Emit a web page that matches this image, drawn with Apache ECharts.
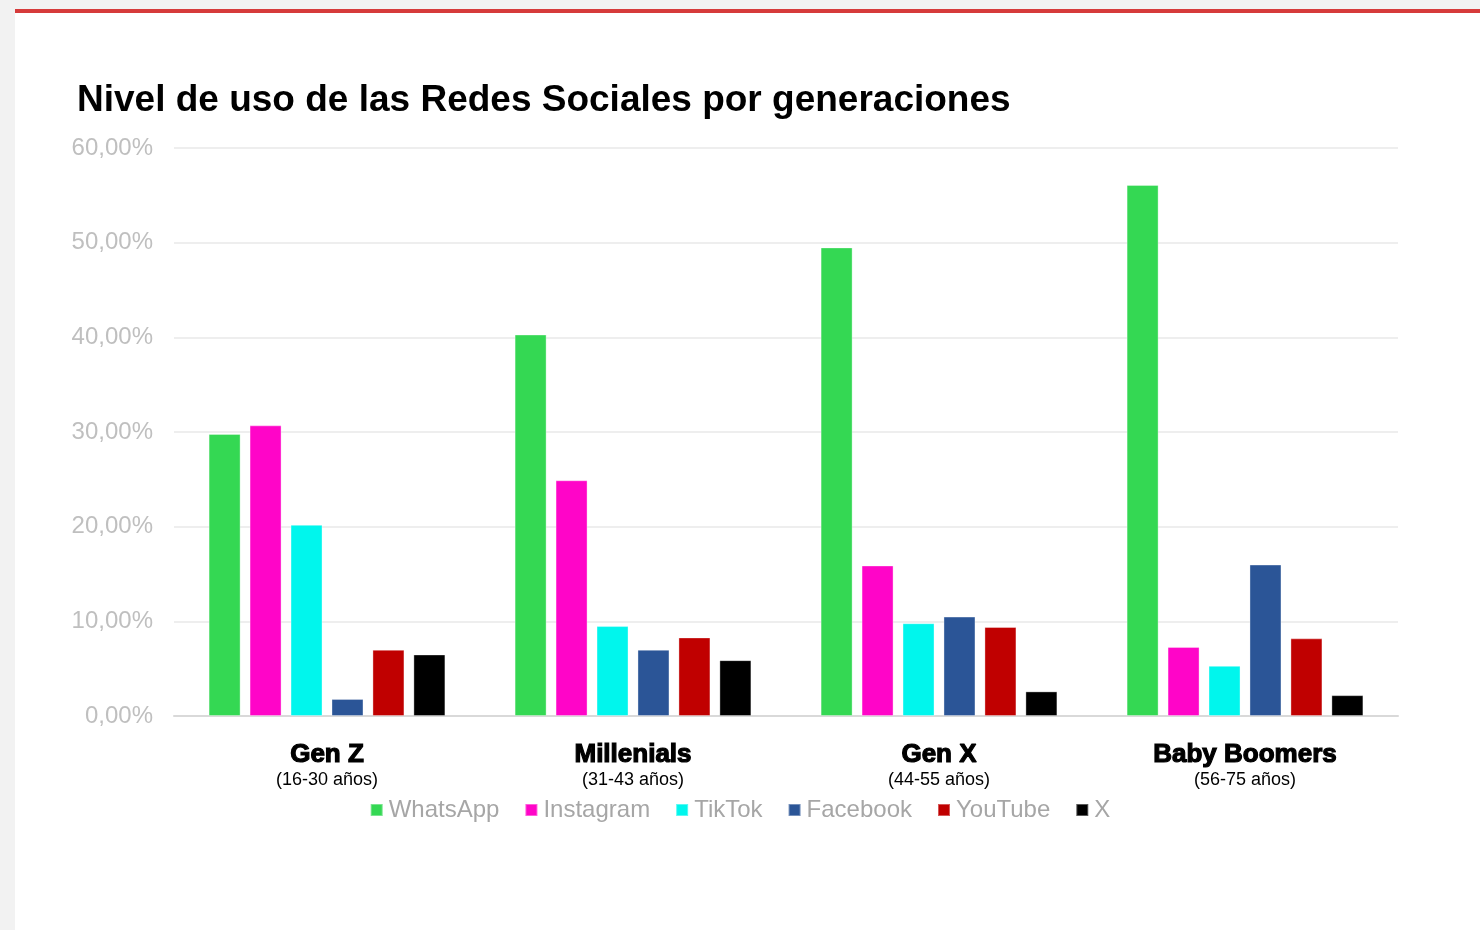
<!DOCTYPE html>
<html>
<head>
<meta charset="utf-8">
<script src="https://cdn.jsdelivr.net/npm/echarts@6/dist/echarts.min.js"></script>
<style>
  html, body { margin: 0; padding: 0; background: #f2f2f2; }
  #chart { width: 1480px; height: 930px; }
</style>
</head>
<body>
<div id="chart"></div>
<script>
const categories = ['Gen Z', 'Millenials', 'Gen X', 'Baby Boomers'];
const ageRanges = ['(16-30 años)', '(31-43 años)', '(44-55 años)', '(56-75 años)'];
const seriesNames = ['WhatsApp', 'Instagram', 'TikTok', 'Facebook', 'YouTube', 'X'];
const whatsapp  = [29.8, 40.3, 49.5, 56.1];
const instagram = [30.7, 24.9, 15.9, 7.3];
const tiktok    = [20.2, 9.5, 9.8, 5.3];
const facebook  = [1.8, 7.0, 10.5, 16.0];
const youtube   = [7.0, 8.3, 9.4, 8.2];
const xData     = [6.5, 5.9, 2.6, 2.2];
const yTicks = [0, 10, 20, 30, 40, 50, 60];

const colors = ['#34d853', '#ff05c8', '#00f6ed', '#2b5597', '#c00000', '#000000'];
const seriesValues = [whatsapp, instagram, tiktok, facebook, youtube, xData];

const chart = echarts.init(document.getElementById('chart'));
const font = '"Liberation Sans", Arial, sans-serif';

const option = {
  backgroundColor: 'transparent',
  animation: false,
  graphic: [
    { type: 'rect', silent: true, z: -10, shape: { x: 15, y: 9, width: 1465, height: 921 }, style: { fill: '#ffffff' } },
    { type: 'rect', silent: true, z: -9, shape: { x: 15, y: 9, width: 1465, height: 4 }, style: { fill: '#d63b3b' } }
  ],
  title: {
    text: 'Nivel de uso de las Redes Sociales por generaciones',
    left: 77, top: 82, padding: 0,
    textStyle: { fontFamily: font, fontSize: 37, fontWeight: 'bold', color: '#000000' }
  },
  legend: {
    data: seriesNames,
    left: 'center', top: 793,
    itemWidth: 12, itemHeight: 12, itemGap: 25,
    icon: 'rect',
    textStyle: { fontFamily: font, fontSize: 24, color: '#a6a6a6', padding: [0, 0, 0, 1] }
  },
  grid: { left: 174, right: 82, top: 148, bottom: 214, containLabel: false },
  xAxis: {
    type: 'category',
    data: categories,
    axisLine: { lineStyle: { color: '#d9d9d9', width: 2 } },
    axisTick: { show: false },
    axisLabel: {
      margin: 25,
      formatter: (v, i) => '{a|' + v + '}\n{b|' + ageRanges[i] + '}',
      rich: {
        a: { fontFamily: font, fontSize: 26, fontWeight: 'bold', color: '#000', lineHeight: 27, textBorderColor: '#000', textBorderWidth: 1.2 },
        b: { fontFamily: font, fontSize: 18, color: '#000', lineHeight: 24 }
      }
    }
  },
  yAxis: {
    type: 'value',
    min: yTicks[0], max: yTicks[yTicks.length - 1], interval: 10,
    axisLine: { show: false },
    axisTick: { show: false },
    splitLine: { lineStyle: { color: '#eeeeee', width: 2 } },
    axisLabel: {
      margin: 21,
      fontFamily: font, fontSize: 24, color: '#bfbfbf',
      padding: [4, 0, 0, 0],
      formatter: v => v.toFixed(2).replace('.', ',') + '%'
    }
  },
  series: seriesNames.map((name, i) => ({
    name: name,
    type: 'bar',
    data: seriesValues[i],
    barWidth: 32,
    barGap: '28%',
    itemStyle: { color: colors[i], borderColor: 'rgba(255,255,255,0.35)', borderWidth: 1 }
  }))
};
chart.setOption(option);
</script>
</body>
</html>
